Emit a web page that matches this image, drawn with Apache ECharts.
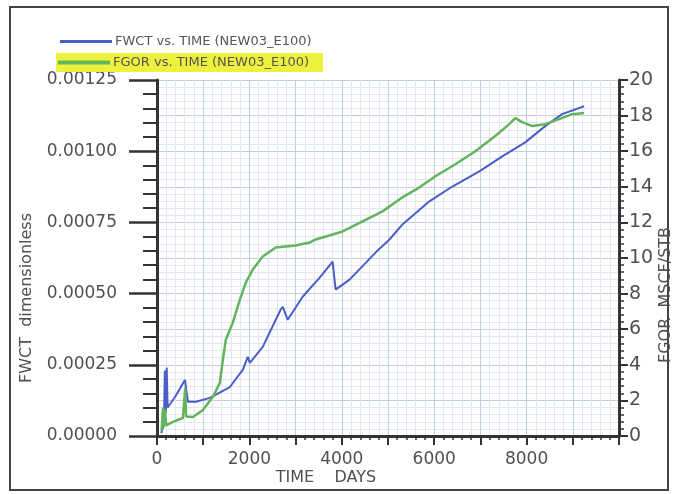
<!DOCTYPE html>
<html>
<head>
<meta charset="utf-8">
<script src="https://cdn.jsdelivr.net/npm/echarts@6/dist/echarts.min.js"></script>
<style>
  html, body { margin: 0; padding: 0; background: #fff; }
  #chart { width: 679px; height: 494px; }
</style>
</head>
<body>
<div id="chart"></div>
<script>
// Water cut (FWCT) against time, left axis
const fwctDays = [90, 150, 170, 190, 210, 230, 260, 389, 605, 670, 842, 1145, 1577, 1857, 1965, 2009, 2289,
  2678, 2721, 2829, 3153, 3521, 3801, 3866, 4168, 4730, 5032, 5313, 5896, 6393, 6976, 7473, 7970, 8402, 8769, 9244];
const fwctValues = [0.00001, 0.00004, 0.00023, 0.00008, 0.00024, 0.00010, 0.00010, 0.000137, 0.000197, 0.00012,
  0.00012, 0.000134, 0.000172, 0.000232, 0.000278, 0.000257, 0.000313, 0.000444, 0.000454, 0.000408, 0.000489,
  0.000556, 0.000612, 0.000514, 0.000549, 0.000644, 0.00069, 0.000743, 0.000824, 0.000876, 0.000929, 0.000982,
  0.001031, 0.001088, 0.00113, 0.001158];

// Gas-oil ratio (FGOR) against time, right axis
const fgorDays = [100, 130, 150, 170, 200, 346, 562, 610, 630, 778, 994, 1210, 1361, 1425, 1490, 1641, 1793, 1922,
  2073, 2289, 2570, 3002, 3305, 3434, 3585, 4017, 4449, 4881, 5313, 5680, 6026, 6458, 6890, 7322, 7624, 7754,
  7905, 8121, 8402, 8704, 8985, 9244];
const fgorValues = [0.3, 1.6, 0.5, 1.5, 0.6, 0.79, 1.01, 2.7, 1.1, 1.07, 1.46, 2.2, 2.99, 4.28, 5.41, 6.37, 7.66,
  8.62, 9.35, 10.08, 10.59, 10.7, 10.87, 11.04, 11.15, 11.49, 12.06, 12.62, 13.41, 13.97, 14.59, 15.27, 16.0,
  16.85, 17.52, 17.86, 17.63, 17.41, 17.52, 17.8, 18.08, 18.14];

const seriesNames = ['FWCT vs. TIME (NEW03_E100)', 'FGOR vs. TIME (NEW03_E100)'];
const xTickLabels = [0, 2000, 4000, 6000, 8000];

const zip = (xs, ys) => xs.map((x, i) => [x, ys[i]]);

const FONT = 'DejaVu Sans';
const AXIS_COLOR = '#333';
const LABEL_COLOR = '#505050';
const GRID_MAJOR = '#c4cde2';
const GRID_MINOR = '#e1e6f1';

const chart = echarts.init(document.getElementById('chart'), null, { renderer: 'canvas' });

chart.setOption({
  backgroundColor: '#fff',
  animation: false,
  grid: { left: 157, top: 80, width: 462, height: 356, containLabel: false },
  legend: [
    {
      data: [seriesNames[0]],
      left: 58, top: 33,
      padding: [2, 4, 2, 2],
      icon: 'rect', itemWidth: 52, itemHeight: 3, itemGap: 0,
      textStyle: { fontFamily: FONT, fontSize: 13, color: '#555', padding: [0, 0, 0, -2] }
    },
    {
      data: [seriesNames[1]],
      left: 56, top: 53,
      padding: [3, 14, 3, 2],
      backgroundColor: '#eef03e',
      icon: 'rect', itemWidth: 52, itemHeight: 4, itemGap: 0,
      textStyle: { fontFamily: FONT, fontSize: 13, color: '#555', padding: [0, 0, 0, -2] }
    }
  ],
  xAxis: {
    type: 'value', min: 0, max: 10000, interval: 1000,
    axisLine: { show: true, lineStyle: { color: AXIS_COLOR, width: 3 } },
    axisTick: { show: true, length: 9, lineStyle: { color: AXIS_COLOR, width: 2 } },
    minorTick: { show: true, splitNumber: 5, length: 4, lineStyle: { color: AXIS_COLOR, width: 1.5 } },
    axisLabel: {
      margin: 15, fontFamily: FONT, fontSize: 17, color: LABEL_COLOR,
      formatter: v => (xTickLabels.indexOf(v) >= 0 ? String(v) : '')
    },
    splitLine: { show: true, lineStyle: { color: GRID_MAJOR, width: 1 } },
    minorSplitLine: { show: true, lineStyle: { color: GRID_MINOR, width: 1 } }
  },
  yAxis: [
    {
      type: 'value', min: 0, max: 0.00125, interval: 0.00025, position: 'left',
      axisLine: { show: true, onZero: false, lineStyle: { color: AXIS_COLOR, width: 3 } },
      axisTick: { show: true, length: 28, lineStyle: { color: AXIS_COLOR, width: 2.5 } },
      minorTick: { show: true, splitNumber: 5, length: 14, lineStyle: { color: AXIS_COLOR, width: 2 } },
      axisLabel: { margin: 40, fontFamily: FONT, fontSize: 17, color: LABEL_COLOR, formatter: v => v.toFixed(5) },
      splitLine: { show: false }
    },
    {
      type: 'value', min: 0, max: 20, interval: 2, position: 'right',
      axisLine: { show: true, onZero: false, lineStyle: { color: AXIS_COLOR, width: 3 } },
      axisTick: { show: true, length: 9, lineStyle: { color: AXIS_COLOR, width: 2 } },
      minorTick: { show: true, splitNumber: 5, length: 5, lineStyle: { color: AXIS_COLOR, width: 1.5 } },
      axisLabel: { margin: 10, fontFamily: FONT, fontSize: 19, color: LABEL_COLOR },
      splitLine: { show: true, lineStyle: { color: GRID_MAJOR, width: 1 } },
      minorSplitLine: { show: true, lineStyle: { color: GRID_MINOR, width: 1 } }
    }
  ],
  series: [
    {
      name: seriesNames[0], type: 'line', yAxisIndex: 0,
      data: zip(fwctDays, fwctValues),
      showSymbol: false, symbol: 'none',
      lineStyle: { color: '#4b5ec6', width: 2 },
      itemStyle: { color: '#4b5ec6' }
    },
    {
      name: seriesNames[1], type: 'line', yAxisIndex: 1,
      data: zip(fgorDays, fgorValues),
      showSymbol: false, symbol: 'none',
      lineStyle: { color: '#62b45d', width: 2.5 },
      itemStyle: { color: '#62b45d' }
    }
  ],
  graphic: [
    {
      type: 'rect', silent: true, z: -1,
      shape: { x: 10, y: 7, width: 658, height: 483 },
      style: { fill: null, stroke: '#444', lineWidth: 2 }
    },
    {
      type: 'text', x: 27, y: 298, rotation: Math.PI / 2,
      style: { text: 'FWCT  dimensionless', font: '16px "DejaVu Sans"', fill: LABEL_COLOR, align: 'center', verticalAlign: 'middle' }
    },
    {
      type: 'text', x: 666, y: 295, rotation: Math.PI / 2,
      style: { text: 'FGOR  MSCF/STB', font: '16px "DejaVu Sans"', fill: LABEL_COLOR, align: 'center', verticalAlign: 'middle' }
    },
    {
      type: 'text', x: 326, y: 478,
      style: { text: 'TIME    DAYS', font: '16px "DejaVu Sans"', fill: LABEL_COLOR, align: 'center', verticalAlign: 'middle' }
    }
  ]
});
</script>
</body>
</html>
